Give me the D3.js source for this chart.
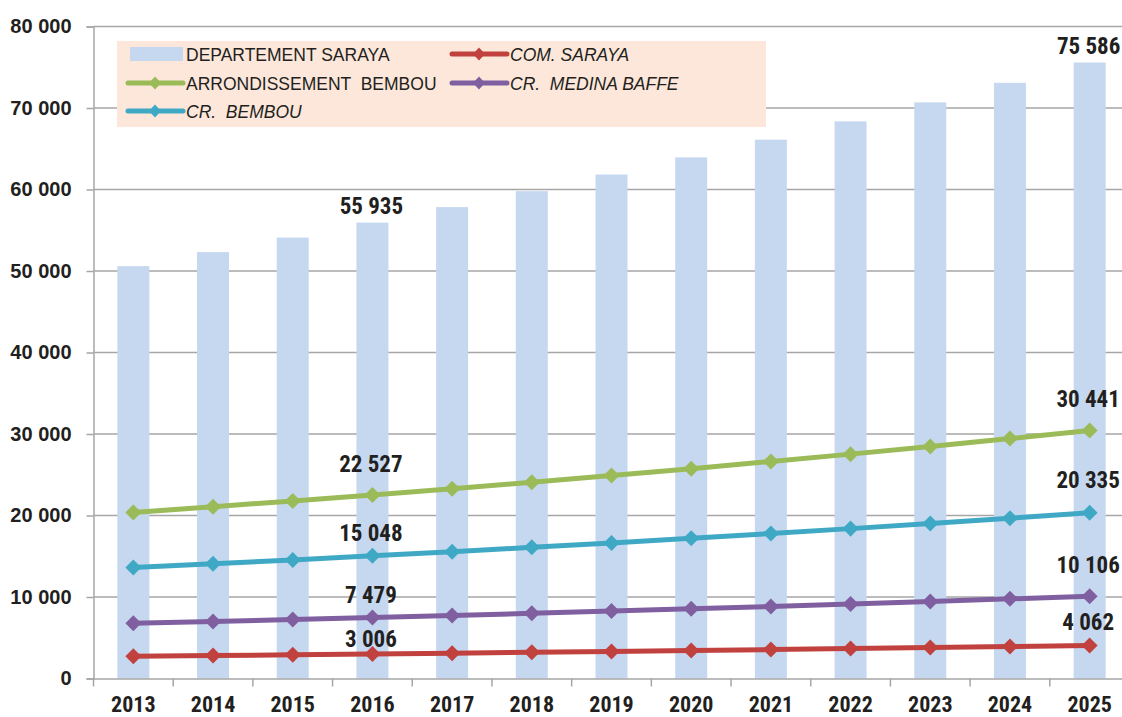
<!DOCTYPE html>
<html>
<head>
<meta charset="utf-8">
<script src="https://cdn.jsdelivr.net/npm/d3@7/dist/d3.min.js"></script>
<style>
  html, body { margin: 0; padding: 0; background: #fff; }
  svg { display: block; }
</style>
</head>
<body>
<svg id="chart" width="1122" height="717"></svg>
<script>
// Population by year
const years = ["2013","2014","2015","2016","2017","2018","2019","2020","2021","2022","2023","2024","2025"];
const departementSaraya = [50600, 52320, 54100, 55935, 57840, 59800, 61840, 63940, 66110, 68360, 70690, 73090, 75586];
const arrondissementBembou = [20380, 21070, 21790, 22527, 23290, 24080, 24900, 25750, 26630, 27530, 28470, 29440, 30441];
const crBembou = [13610, 14080, 14550, 15048, 15560, 16090, 16640, 17200, 17790, 18390, 19020, 19660, 20335];
const crMedinaBaffe = [6765, 6995, 7233, 7479, 7733, 7996, 8268, 8549, 8840, 9141, 9451, 9773, 10106];
const comSaraya = [2719, 2812, 2907, 3006, 3108, 3214, 3323, 3436, 3553, 3674, 3799, 3928, 4062];
const yTicks = [0, 10000, 20000, 30000, 40000, 50000, 60000, 70000, 80000];
// years whose values are written on the chart
const labelledYears = ["2016", "2025"];

const svg = d3.select("#chart");
const plotLeft = 93.5, plotBottom = 678.5, plotTop = 26.5, plotRight = 1129.5;

const xStep = d3.scaleBand().domain(years).range([plotLeft, plotRight]);
const y = d3.scaleLinear().domain([0, 80000]).range([plotBottom, plotTop]);
const fmt = v => d3.format(",")(v).replace(/,/g, " ");

const narrow = "'Liberation Sans Narrow', 'Arial Narrow', 'Roboto Condensed', sans-serif";
const sans = "'Liberation Sans', Arial, sans-serif";
const ink = "#231f20";
const gridColor = "#a6a6a6";

// gridlines
svg.append("g")
  .selectAll("line").data(yTicks.slice(1)).join("line")
  .attr("x1", plotLeft).attr("x2", 1122)
  .attr("y1", d => y(d)).attr("y2", d => y(d))
  .attr("stroke", gridColor).attr("stroke-width", 1.5);

// bars
svg.append("g")
  .selectAll("rect").data(departementSaraya).join("rect")
  .attr("x", (d, i) => xStep(years[i]) + xStep.bandwidth() / 2 - 16)
  .attr("width", 32)
  .attr("y", d => y(d))
  .attr("height", d => plotBottom - y(d))
  .attr("fill", "#c6d8f0");

// y axis
const yAxis = d3.axisLeft(y).tickValues(yTicks).tickSize(7).tickFormat(fmt);
const gy = svg.append("g").attr("transform", `translate(${plotLeft},0)`).call(yAxis);
gy.select(".domain").attr("stroke", gridColor).attr("stroke-width", 1.5);
gy.selectAll(".tick line").attr("stroke", gridColor).attr("stroke-width", 1.5);
gy.selectAll(".tick text")
  .attr("x", -22)
  .style("font-family", sans).style("font-weight", "bold").style("font-size", "20px")
  .attr("fill", ink);

// x axis
const xAxis = d3.axisBottom(xStep).tickSize(0);
const gx = svg.append("g").attr("transform", `translate(0,${plotBottom})`).call(xAxis);
gx.select(".domain").attr("stroke", gridColor).attr("stroke-width", 1.5);
gx.selectAll(".tick text")
  .attr("y", 33.5).attr("dy", 0)
  .style("font-family", narrow).style("font-weight", "bold").style("font-size", "22px")
  .attr("fill", ink);
// ticks between categories
svg.append("g")
  .selectAll("line").data(years).join("line")
  .attr("x1", d => xStep(d)).attr("x2", d => xStep(d))
  .attr("y1", plotBottom).attr("y2", plotBottom + 8)
  .attr("stroke", gridColor).attr("stroke-width", 1.5);

// line series; dy = label baseline offset from the point, for 2016 and 2025
const series = [
  { name: "ARRONDISSEMENT  BEMBOU", values: arrondissementBembou, color: "#9bbb59", dy: [-23, -23] },
  { name: "CR.  BEMBOU", values: crBembou, color: "#3fa9c5", dy: [-15, -25] },
  { name: "CR.  MEDINA BAFFE", values: crMedinaBaffe, color: "#7f5fa0", dy: [-14.5, -23] },
  { name: "COM. SARAYA", values: comSaraya, color: "#c0413e", dy: [-7, -15] }
];
const cx = yr => xStep(yr) + xStep.bandwidth() / 2;
const line = d3.line().x((d, i) => cx(years[i])).y(d => y(d));
const diamond = d3.symbol().type(d3.symbolDiamond).size(74);

series.forEach(s => {
  const g = svg.append("g");
  g.append("path").datum(s.values).attr("d", line)
    .attr("fill", "none").attr("stroke", s.color).attr("stroke-width", 5).attr("stroke-linejoin", "round");
  g.selectAll("path.m").data(s.values).join("path").attr("class", "m")
    .attr("d", diamond)
    .attr("transform", (d, i) => `translate(${cx(years[i])},${y(d)}) scale(1.73,1)`)
    .attr("fill", s.color);
});

// value labels
const labelStyle = sel => sel
  .attr("text-anchor", "middle")
  .style("font-family", narrow).style("font-weight", "bold").style("font-size", "23px")
  .attr("fill", ink);

labelledYears.forEach(yr => {
  const i = years.indexOf(yr);
  svg.append("text").attr("x", cx(yr) - 1).attr("y", y(departementSaraya[i]) - 8.5)
    .text(fmt(departementSaraya[i])).call(labelStyle);
});
series.forEach(s => {
  labelledYears.forEach((yr, k) => {
    const i = years.indexOf(yr);
    svg.append("text").attr("x", cx(yr) - 1.5).attr("y", y(s.values[i]) + s.dy[k])
      .text(fmt(s.values[i])).call(labelStyle);
  });
});

// legend
const lg = svg.append("g");
lg.append("rect").attr("x", 117).attr("y", 41).attr("width", 649).attr("height", 86).attr("fill", "#fce7da");
const legendItems = [
  { name: "DEPARTEMENT SARAYA", color: "#c6d8f0", bar: true, italic: false, col: 0, row: 0 },
  { name: series[3].name, color: series[3].color, italic: true, col: 1, row: 0 },
  { name: series[0].name, color: series[0].color, italic: false, col: 0, row: 1 },
  { name: series[2].name, color: series[2].color, italic: true, col: 1, row: 1 },
  { name: series[1].name, color: series[1].color, italic: true, col: 0, row: 2 }
];
const colX = [128, 452], rowY = [54, 83, 111];
legendItems.forEach(it => {
  const lx = colX[it.col], ly = rowY[it.row];
  if (it.bar) {
    lg.append("rect").attr("x", lx + 2).attr("y", ly - 7).attr("width", 53).attr("height", 14).attr("fill", it.color);
  } else {
    lg.append("line").attr("x1", lx).attr("x2", lx + 55).attr("y1", ly).attr("y2", ly)
      .attr("stroke", it.color).attr("stroke-width", 5).attr("stroke-linecap", "round");
    lg.append("path").attr("d", diamond)
      .attr("transform", `translate(${lx + 27},${ly}) scale(1.3,0.8)`).attr("fill", it.color);
  }
  lg.append("text").attr("x", lx + 58).attr("y", ly + 6.5)
    .text(it.name)
    .style("white-space", "pre")
    .style("font-family", sans).style("font-size", "17.5px")
    .style("font-style", it.italic ? "italic" : "normal")
    .attr("fill", ink);
});
</script>
</body>
</html>
